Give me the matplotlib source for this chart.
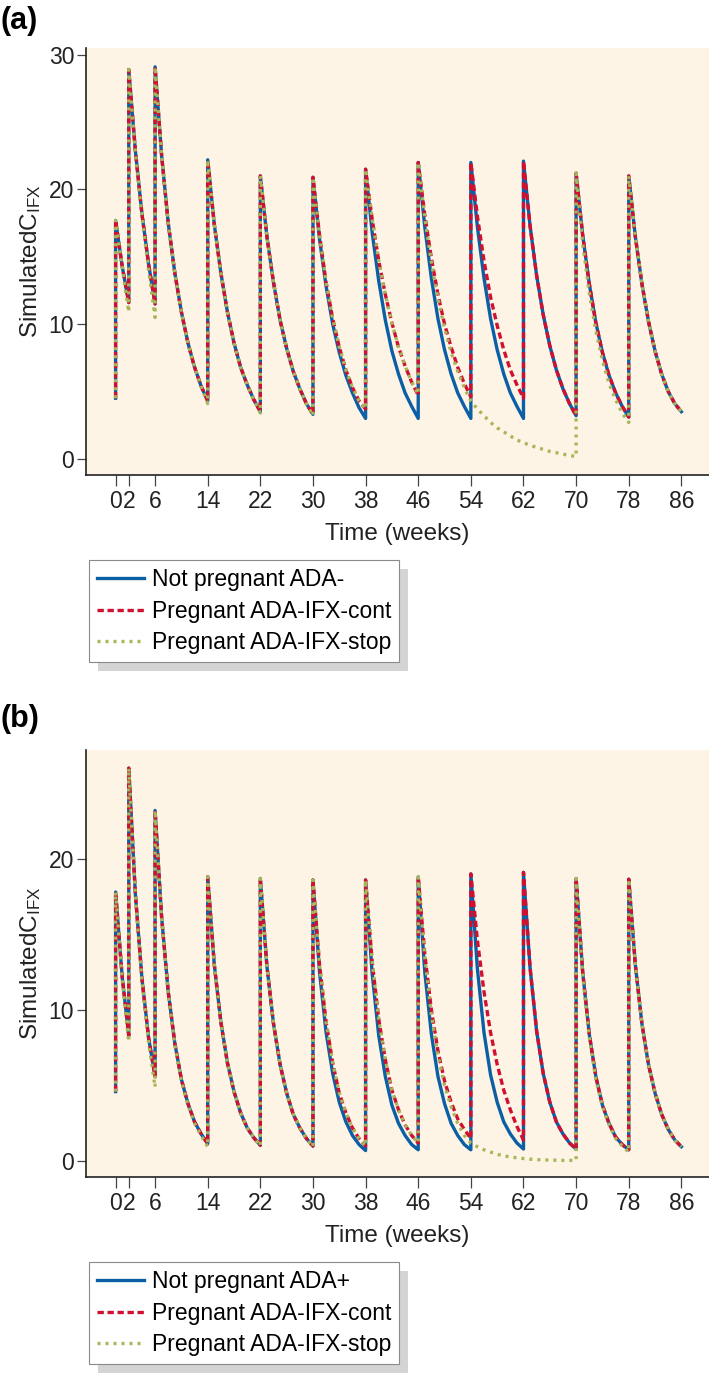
import numpy as np
import matplotlib
matplotlib.use('Agg')
import matplotlib.pyplot as plt
from matplotlib.lines import Line2D
from matplotlib.patches import Rectangle

plt.rcParams['font.family'] = ['Liberation Sans', 'DejaVu Sans']

# dosing weeks (interval boundaries) and axis ticks
dose_weeks = [0, 2, 6, 14, 22, 30, 38, 46, 54, 62, 70, 78, 86]
tick_weeks = [0, 2, 6, 14, 22, 30, 38, 46, 54, 62, 70, 78, 86]
labels_a = ['Not pregnant ADA-', 'Pregnant ADA-IFX-cont', 'Pregnant ADA-IFX-stop']
labels_b = ['Not pregnant ADA+', 'Pregnant ADA-IFX-cont', 'Pregnant ADA-IFX-stop']

# ---- panel (a): concentration read at weekly steps inside each dosing interval
start_a = 4.5
not_preg_a = [
    [17.7, 14.3, 11.6],
    [28.9, 22.9, 18.2, 14.5, 11.5],
    [29.1, 22.5, 17.5, 13.8, 10.9, 8.6, 6.8, 5.4, 4.3],
    [22.2, 17.4, 13.8, 10.9, 8.6, 6.8, 5.5, 4.4, 3.5],
    [21.0, 16.5, 13.1, 10.3, 8.2, 6.5, 5.2, 4.1, 3.3],
    [20.9, 16.3, 12.8, 10.0, 7.9, 6.2, 4.9, 3.8, 3.0],
    [21.5, 16.8, 13.2, 10.3, 8.0, 6.3, 4.9, 3.9, 3.0],
    [22.0, 17.2, 13.4, 10.4, 8.1, 6.3, 4.9, 3.9, 3.0],
    [22.0, 17.2, 13.4, 10.4, 8.1, 6.3, 4.9, 3.9, 3.0],
    [22.1, 17.3, 13.6, 10.7, 8.4, 6.6, 5.2, 4.1, 3.2],
    [21.2, 16.6, 13.0, 10.1, 7.9, 6.2, 4.9, 3.9, 3.1],
    [21.0, 16.5, 13.0, 10.2, 8.0, 6.3, 5.0, 4.1, 3.5],
]
preg_cont_a = [
    [17.7, 14.3, 11.6],
    [28.9, 22.9, 18.2, 14.5, 11.5],
    [29.1, 22.5, 17.5, 13.8, 10.9, 8.6, 6.8, 5.4, 4.3],
    [22.2, 17.4, 13.8, 10.9, 8.6, 6.8, 5.5, 4.4, 3.5],
    [21.0, 16.5, 13.1, 10.3, 8.2, 6.5, 5.2, 4.1, 3.3],
    [20.9, 16.6, 13.1, 10.4, 8.3, 6.6, 5.3, 4.3, 3.7],
    [21.5, 17.8, 14.7, 12.2, 10.1, 8.3, 6.9, 5.7, 4.7],
    [22.0, 18.1, 14.9, 12.2, 10.0, 8.3, 6.8, 5.6, 4.6],
    [22.0, 18.0, 14.7, 12.0, 9.9, 8.1, 6.6, 5.5, 4.5],
    [22.1, 17.3, 13.6, 10.7, 8.4, 6.6, 5.2, 4.1, 3.2],
    [21.2, 16.6, 13.0, 10.1, 7.9, 6.2, 4.9, 3.9, 3.1],
    [21.0, 16.5, 13.0, 10.2, 8.0, 6.3, 5.0, 4.1, 3.5],
]
preg_stop_a = [
    [17.7, 14.2, 10.9],
    [28.9, 22.8, 18.0, 14.1, 10.5],
    [29.1, 22.5, 17.5, 13.8, 10.9, 8.6, 6.8, 5.4, 4.1],
    [22.2, 17.4, 13.8, 10.9, 8.6, 6.8, 5.5, 4.4, 3.4],
    [21.0, 16.5, 13.1, 10.3, 8.2, 6.5, 5.2, 4.1, 3.2],
    [20.9, 16.6, 13.1, 10.4, 8.3, 6.6, 5.3, 4.3, 3.7],
    [21.5, 17.8, 14.7, 12.2, 10.1, 8.3, 6.9, 5.7, 4.8],
    [22.0, 17.9, 14.6, 11.9, 9.7, 7.9, 6.5, 5.3, 4.3],
    [4.3, 3.7, 3.2, 2.7, 2.3, 2.0, 1.7, 1.4, 1.2],
    [1.2, 1.0, 0.85, 0.7, 0.55, 0.45, 0.35, 0.25, 0.17],
    [21.2, 16.0, 12.3, 9.5, 7.3, 5.6, 4.4, 3.4, 2.7],
    [21.0, 16.5, 13.0, 10.2, 8.0, 6.3, 5.0, 4.1, 3.5],
]

# ---- panel (b)
start_b = 4.6
not_preg_b = [
    [17.8, 12.2, 8.3],
    [26.0, 17.7, 12.1, 8.2, 5.6],
    [23.2, 16.1, 11.2, 7.8, 5.4, 3.8, 2.6, 1.8, 1.15],
    [18.8, 13.0, 9.2, 6.5, 4.6, 3.2, 2.2, 1.55, 1.05],
    [18.7, 12.9, 9.1, 6.4, 4.5, 3.1, 2.2, 1.5, 1.0],
    [18.6, 12.5, 8.5, 5.8, 3.9, 2.6, 1.7, 1.1, 0.7],
    [18.6, 12.4, 8.3, 5.6, 3.7, 2.5, 1.7, 1.1, 0.75],
    [18.8, 12.5, 8.4, 5.6, 3.8, 2.5, 1.7, 1.1, 0.75],
    [19.0, 12.7, 8.5, 5.7, 3.9, 2.6, 1.8, 1.2, 0.8],
    [19.1, 12.8, 8.6, 5.8, 3.9, 2.6, 1.8, 1.2, 0.8],
    [18.7, 12.5, 8.4, 5.6, 3.7, 2.5, 1.6, 1.1, 0.75],
    [18.65, 13.0, 9.1, 6.4, 4.5, 3.1, 2.1, 1.4, 0.95],
]
preg_cont_b = [
    [17.8, 12.2, 8.3],
    [26.0, 17.7, 12.1, 8.2, 5.6],
    [23.2, 16.1, 11.2, 7.8, 5.4, 3.8, 2.6, 1.8, 1.15],
    [18.8, 13.0, 9.2, 6.5, 4.6, 3.2, 2.2, 1.55, 1.05],
    [18.7, 12.9, 9.1, 6.4, 4.5, 3.1, 2.2, 1.5, 1.0],
    [18.6, 13.0, 9.2, 6.5, 4.5, 3.2, 2.2, 1.5, 1.0],
    [18.6, 13.2, 9.4, 6.7, 4.7, 3.4, 2.4, 1.7, 1.2],
    [18.8, 13.7, 10.0, 7.3, 5.3, 3.9, 2.8, 2.1, 1.5],
    [19.0, 14.6, 11.2, 8.5, 6.4, 4.7, 3.4, 2.3, 1.4],
    [19.1, 12.8, 8.6, 5.8, 3.9, 2.6, 1.8, 1.2, 0.8],
    [18.7, 12.5, 8.4, 5.6, 3.7, 2.5, 1.6, 1.1, 0.75],
    [18.65, 13.0, 9.1, 6.4, 4.5, 3.1, 2.1, 1.4, 0.95],
]
preg_stop_b = [
    [17.8, 12.0, 7.9],
    [26.0, 17.6, 11.9, 7.9, 4.9],
    [23.2, 16.0, 11.1, 7.7, 5.3, 3.7, 2.5, 1.7, 0.95],
    [18.8, 13.0, 9.2, 6.5, 4.6, 3.2, 2.2, 1.55, 1.0],
    [18.7, 12.9, 9.1, 6.4, 4.5, 3.1, 2.2, 1.5, 0.95],
    [18.6, 13.0, 9.2, 6.5, 4.5, 3.2, 2.2, 1.5, 1.0],
    [18.6, 13.2, 9.4, 6.7, 4.7, 3.4, 2.4, 1.7, 1.2],
    [18.8, 13.5, 9.7, 7.0, 5.0, 3.6, 2.5, 1.7, 1.2],
    [1.2, 0.95, 0.75, 0.6, 0.45, 0.35, 0.28, 0.22, 0.17],
    [0.17, 0.13, 0.1, 0.08, 0.07, 0.06, 0.05, 0.05, 0.05],
    [18.7, 12.3, 8.2, 5.4, 3.6, 2.4, 1.5, 1.0, 0.6],
    [18.65, 13.0, 9.1, 6.4, 4.5, 3.1, 2.1, 1.4, 0.95],
]

W, H = 709, 1373
BLUE, RED, GREEN = '#0b5fa5', '#d10f2f', '#a8b65a'
BG = '#fdf4e6'
LW = 2.4


def build(start, intervals):
    # weekly samples inside each dosing interval, joined end to end
    t, c = [0.0], [start]
    for i, vals in enumerate(intervals):
        t.extend(np.linspace(dose_weeks[i], dose_weeks[i + 1], len(vals)))
        c.extend(vals)
    return np.array(t), np.array(c)


def draw_panel(ax, start, series, labels, ylim, yticks, leg_top, letter, letter_top):
    styles = [dict(color=BLUE, ls='-'),
              dict(color=RED, ls=(0, (1.9, 1.1))),
              dict(color=GREEN, ls=(0, (0.9, 1.5)))]
    handles = []
    for vals, st in zip(series, styles):
        t, c = build(start, vals)
        ax.plot(t, c, lw=LW, **st)
        handles.append(Line2D([], [], lw=LW, **st))

    ax.set_facecolor(BG)
    ax.set_xlim(-4.5, 90.2)
    ax.set_ylim(*ylim)
    ax.set_xticks(tick_weeks)
    ax.set_yticks(yticks)
    for s in ['top', 'right']:
        ax.spines[s].set_visible(False)
    for s in ['left', 'bottom']:
        ax.spines[s].set_linewidth(1.2)
        ax.spines[s].set_color('#222222')
    ax.tick_params(axis='x', direction='out', length=8, width=0.9, pad=3,
                   labelsize=16.5, color='#444444', labelcolor='#222222')
    ax.tick_params(axis='y', direction='out', length=6.5, width=0.9, pad=2,
                   labelsize=16.5, color='#444444', labelcolor='#222222')
    ax.set_xlabel('Time (weeks)', fontsize=17.5, labelpad=7, color='#222222')
    ax.set_ylabel(r'Simulated$\mathregular{C_{IFX}}$', fontsize=17.5, labelpad=4,
                  color='#222222')

    leg = fig.legend(handles, labels, loc='upper left',
                     bbox_to_anchor=(89 / W, 1 - leg_top / H),
                     bbox_transform=fig.transFigure, fontsize=16.5,
                     frameon=True, fancybox=False, framealpha=1,
                     edgecolor='#8a8a8a', handlelength=2.05,
                     handletextpad=0.35, labelspacing=0.38, borderpad=0.35,
                     borderaxespad=0)
    leg.get_frame().set_linewidth(0.8)
    leg.set_zorder(5)

    fig.text(1 / W, 1 - letter_top / H, letter, fontsize=22, fontweight='bold',
             va='top', ha='left')
    return leg


fig = plt.figure(figsize=(W / 100, H / 100), dpi=100)
ax_a = fig.add_axes([86 / W, (H - 475) / H, (W - 86) / W, (475 - 48) / H])
ax_b = fig.add_axes([86 / W, (H - 1177) / H, (W - 86) / W, (1177 - 750) / H])

leg_a = draw_panel(ax_a, start_a, [not_preg_a, preg_cont_a, preg_stop_a], labels_a,
                   (-1.2, 30.5), [0, 10, 20, 30], 560, '(a)', 6)
leg_b = draw_panel(ax_b, start_b, [not_preg_b, preg_cont_b, preg_stop_b], labels_b,
                   (-1.05, 27.2), [0, 10, 20], 1262, '(b)', 704)

# grey drop shadow behind each legend box
fig.canvas.draw()
inv = fig.transFigure.inverted()
for leg in [leg_a, leg_b]:
    bb = leg.get_frame().get_window_extent()
    (x0, y0), (x1, y1) = inv.transform([(bb.x0 + 9, bb.y0 - 9), (bb.x1 + 9, bb.y1 - 9)])
    fig.patches.append(Rectangle((x0, y0), x1 - x0, y1 - y0, transform=fig.transFigure,
                                 facecolor='#d4d4d4', edgecolor='none', zorder=4))

fig.savefig('out.png', dpi=100)
